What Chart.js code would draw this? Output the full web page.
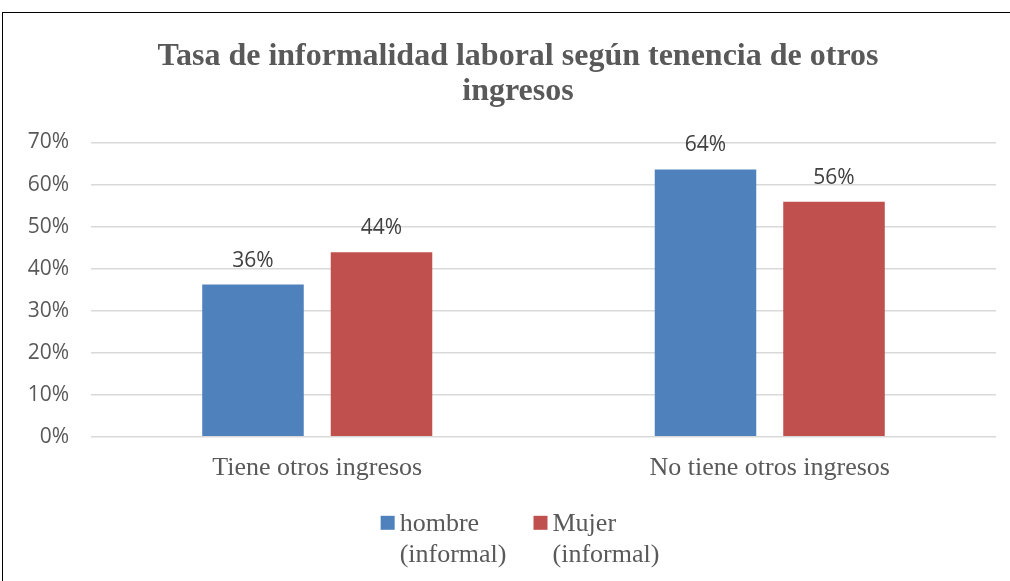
<!DOCTYPE html>
<html>
<head>
<meta charset="utf-8">
<script src="https://cdn.jsdelivr.net/npm/chart.js@4.4.1/dist/chart.umd.min.js"></script>
<style>
  html, body { margin: 0; padding: 0; background: #fff; overflow: hidden; }
  #frame {
    position: absolute; left: 2px; top: 12px;
    width: 1040px; height: 600px;
    border-top: 1.5px solid #000; border-left: 1.5px solid #000;
  }
  #chartTasa { position: absolute; left: 0; top: 0; }
</style>
</head>
<body>
<div id="frame">
  <canvas id="chartTasa" width="1030" height="567"></canvas>
</div>
<script>
// categorias y series (proporciones)
const categorias = ['Tiene otros ingresos', 'No tiene otros ingresos'];
const hombreInformal = [0.362, 0.636];
const mujerInformal = [0.439, 0.559];
const etiquetasSerie = [['hombre', '(informal)'], ['Mujer', '(informal)']];
const tituloLineas = ['Tasa de informalidad laboral según tenencia de otros', 'ingresos'];

const colorHombre = '#4F81BD';
const colorMujer = '#C0504D';

function formatPct(v){
    return Math.round(v * 100) + '%';
}

// etiquetas encima de cada barra
const etiquetasBarras = {
    id: 'etiquetasBarras',
    afterDatasetsDraw(chart){
        const ctx = chart.ctx;
        ctx.save();
        ctx.font = '21px "Open Sans"';
        ctx.fillStyle = '#404040';
        ctx.textAlign = 'center';
        ctx.textBaseline = 'alphabetic';
        chart.data.datasets.forEach(function(ds, i){
            chart.getDatasetMeta(i).data.forEach(function(bar, j){
                ctx.fillText(formatPct(ds.data[j]), bar.x, bar.y - 18);
            });
        });
        ctx.restore();
    }
};

// leyenda en dos lineas (estilo Excel)
const leyendaDosLineas = {
    id: 'leyendaDosLineas',
    afterDraw(chart){
        const ctx = chart.ctx;
        const area = chart.chartArea;
        ctx.save();
        ctx.font = '26px "Liberation Serif"';
        let items = chart.data.datasets.map(function(ds){
            let lines = ds.legendLines;
            let w = Math.max.apply(null, lines.map(function(l){ return ctx.measureText(l).width; }));
            return { lines: lines, color: ds.backgroundColor, width: 14 + 5 + w };
        });
        let gap = 27;
        let total = items.reduce(function(s, it){ return s + it.width; }, 0) + gap * (items.length - 1);
        let x = chart.width / 2 + 2 - total / 2;
        let top = area.bottom + 79;
        items.forEach(function(it){
            ctx.fillStyle = it.color;
            ctx.fillRect(x, top, 14, 14);
            ctx.fillStyle = '#595959';
            ctx.textAlign = 'left';
            ctx.textBaseline = 'alphabetic';
            it.lines.forEach(function(l, k){
                ctx.fillText(l, x + 19, top + 15 + k * 31);
            });
            x += it.width + gap;
        });
        ctx.restore();
    }
};

let ctxTasa = document.getElementById('chartTasa');
new Chart(ctxTasa, {
    type: 'bar',
    data: {
        labels: categorias,
        datasets: [
            {
                label: 'hombre (informal)',
                legendLines: etiquetasSerie[0],
                data: hombreInformal,
                backgroundColor: colorHombre,
                categoryPercentage: 0.568,
                barPercentage: 0.79
            },
            {
                label: 'Mujer (informal)',
                legendLines: etiquetasSerie[1],
                data: mujerInformal,
                backgroundColor: colorMujer,
                categoryPercentage: 0.568,
                barPercentage: 0.79
            }
        ]
    },
    options: {
        responsive: false,
        animation: false,
        layout: { padding: { left: 3, right: 3, top: 0, bottom: 88 } },
        plugins: {
            legend: { display: false },
            tooltip: { enabled: false },
            title: {
                display: true,
                text: tituloLineas,
                color: '#595959',
                font: { family: '"Liberation Serif"', size: 32, weight: 'bold', lineHeight: 1.07 },
                padding: { top: 27, bottom: 34 }
            }
        },
        scales: {
            x: {
                grid: { display: false },
                border: { display: false },
                ticks: {
                    color: '#595959',
                    padding: 8,
                    font: { family: '"Liberation Serif"', size: 26 }
                }
            },
            y: {
                min: 0,
                max: 0.7,
                afterFit: function(scale){ scale.width = 85; },
                grid: { color: '#D9D9D9', lineWidth: 1.5, drawTicks: false },
                border: { display: false },
                ticks: {
                    stepSize: 0.1,
                    color: '#595959',
                    padding: 22,
                    font: { family: '"Open Sans"', size: 21 },
                    callback: function(v){ return formatPct(v); }
                }
            },
            // margen derecho vacio (el grafico original sigue mas alla del borde)
            yMargen: {
                position: 'right',
                afterFit: function(scale){ scale.width = 34; },
                grid: { display: false },
                border: { display: false },
                ticks: { display: false }
            }
        }
    },
    plugins: [etiquetasBarras, leyendaDosLineas]
});
</script>
</body>
</html>
